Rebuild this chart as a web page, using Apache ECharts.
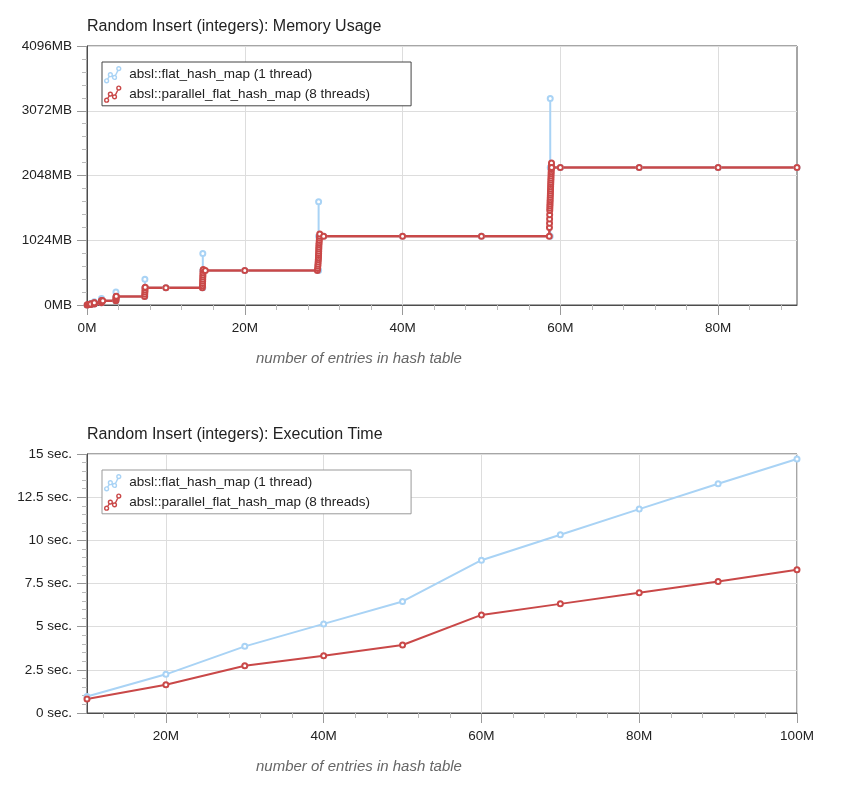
<!DOCTYPE html>
<html>
<head>
<meta charset="utf-8">
<script src="https://cdn.jsdelivr.net/npm/echarts@6/dist/echarts.min.js"></script>
<style>
  html, body { margin: 0; padding: 0; background: #fff; }
  #main_chart { width: 853px; height: 799px; }
</style>
</head>
<body>
<div id="main_chart"></div>
<script>
// memory usage chart (x: millions of entries, y: MB)
const memEntriesSingle = [0.01, 0.46, 0.46, 0.46, 0.92, 0.92, 0.92, 1.84, 1.84, 1.84, 3.67, 3.67, 3.67,
  7.34, 7.34, 7.34, 10, 14.68, 14.68, 14.68, 20, 29.36, 29.36, 29.36, 30, 40, 50,
  58.72, 58.72, 58.72, 60, 70, 80, 90];
const memSingle = [1, 8.5, 25.5, 17, 17, 51, 34, 34, 102, 68, 68, 204, 136,
  136, 408, 272, 272, 272, 816, 544, 544, 544, 1632, 1088, 1088, 1088, 1088,
  1088, 3264, 2176, 2176, 2176, 2176, 2176];

const memEntriesParallel = [0.01, 0.06, 0.11, 0.23,
  0.46, 0.46, 0.47, 0.47,
  0.92, 0.92, 0.93, 0.93,
  1.83, 1.83, 1.84, 1.85, 2,
  3.66, 3.67, 3.68, 3.69, 3.70, 3.71,
  7.30, 7.32, 7.34, 7.35, 7.36, 7.38,
  10,
  14.62, 14.64, 14.65, 14.66, 14.67, 14.68, 14.69, 14.70, 14.72, 14.74,
  15, 20,
  29.20, 29.24, 29.26, 29.28, 29.30, 29.32, 29.34, 29.35, 29.36, 29.37, 29.38, 29.39, 29.40, 29.42, 29.44, 29.46, 29.48, 29.50,
  30, 40, 50,
  58.60, 58.62, 58.63, 58.64, 58.65, 58.66, 58.67, 58.68, 58.69, 58.70, 58.71, 58.72, 58.73, 58.74, 58.75,
  58.76, 58.77, 58.78, 58.79, 58.80, 58.81, 58.82, 58.83, 58.84, 58.85, 58.86, 58.87, 58.88, 58.90,
  60, 70, 80, 90];
const memParallel = [1, 2, 4, 8.5,
  8.5, 13, 17, 17.5,
  17, 25, 34, 35,
  34, 51, 68, 70, 68,
  68, 85, 102, 119, 136, 140,
  136, 170, 204, 238, 272, 280,
  272,
  272, 306, 340, 374, 408, 442, 476, 510, 544, 561,
  544, 544,
  544, 578, 612, 646, 680, 714, 748, 782, 816, 850, 884, 918, 952, 986, 1020, 1054, 1088, 1122,
  1088, 1088, 1088,
  1088, 1224, 1292, 1360, 1428, 1496, 1530, 1564, 1598, 1632, 1666, 1700, 1734, 1768, 1802,
  1836, 1870, 1904, 1938, 1972, 2006, 2040, 2074, 2108, 2142, 2176, 2210, 2244, 2176,
  2176, 2176, 2176, 2176];

// execution time chart (x: millions of entries, y: seconds)
const timeEntries = [10, 20, 30, 40, 50, 60, 70, 80, 90, 100];
const timeSingle = [0.96, 2.24, 3.86, 5.16, 6.46, 8.85, 10.32, 11.81, 13.28, 14.71];
const timeParallel = [0.81, 1.64, 2.74, 3.32, 3.94, 5.68, 6.32, 6.96, 7.62, 8.29];

// tick labels
const memXLabels = [0, 20, 40, 60, 80];
const memXMinor = [4, 8, 12, 16, 24, 28, 32, 36, 44, 48, 52, 56, 64, 68, 72, 76, 84, 88];
const timeXLabels = [20, 40, 60, 80, 100];
const timeXMinor = [12, 16, 24, 28, 32, 36, 44, 48, 52, 56, 64, 68, 72, 76, 84, 88, 92, 96];

const nameSingle = 'absl::flat_hash_map (1 thread)';
const nameParallel = 'absl::parallel_flat_hash_map (8 threads)';
const blue = '#a9d3f5';
const red = '#c94848';
const fontFam = 'Arial, "Liberation Sans", sans-serif';

// little zigzag icon used in the legend
const legendIcon = 'path://M0.5,13.7a1.8,1.8 0 1,0 3.6,0a1.8,1.8 0 1,0 -3.6,0' +
  'M4,8a1.8,1.8 0 1,0 3.6,0a1.8,1.8 0 1,0 -3.6,0' +
  'M7.9,10.6a1.8,1.8 0 1,0 3.6,0a1.8,1.8 0 1,0 -3.6,0' +
  'M11.9,2.3a1.8,1.8 0 1,0 3.6,0a1.8,1.8 0 1,0 -3.6,0' +
  'M3.24,12.17L4.86,9.53M7.3,9L8.2,9.6M10.48,8.98L12.92,3.92';

function zip(xs, ys) {
  return xs.map((x, i) => [x, ys[i]]);
}

function makeLegend(top, border) {
  return {
    left: 102, top: top,
    orient: 'vertical',
    backgroundColor: '#fff',
    borderColor: border, borderWidth: 1, borderRadius: 0,
    padding: [4, 41, 3, 2],
    itemWidth: 17, itemHeight: 16, itemGap: 2,
    icon: legendIcon,
    textStyle: { fontSize: 13.5, color: '#222', fontFamily: fontFam, padding: [0, 0, 0, 3] },
    selectedMode: false,
    data: [
      { name: nameSingle, itemStyle: { color: 'rgba(0,0,0,0)', borderColor: blue, borderWidth: 1.4 } },
      { name: nameParallel, itemStyle: { color: 'rgba(0,0,0,0)', borderColor: red, borderWidth: 1.4 } }
    ]
  };
}

function mainX(grid, min, max, labels) {
  return {
    type: 'value', gridIndex: grid, position: 'bottom', min: min, max: max,
    axisLine: { show: true, lineStyle: { color: '#4d4d4d' } },
    axisTick: { show: true, customValues: labels, length: 10, lineStyle: { color: '#999' } },
    axisLabel: { customValues: labels, formatter: v => v + 'M', margin: 16, fontSize: 13.5, color: '#222' },
    splitLine: { show: true, lineStyle: { color: '#ddd' } }
  };
}

function minorX(grid, min, max, ticks) {
  return {
    type: 'value', gridIndex: grid, position: 'bottom', min: min, max: max,
    axisLine: { show: false },
    axisTick: { show: true, customValues: ticks, length: 5, lineStyle: { color: '#bbb' } },
    axisLabel: { show: false },
    splitLine: { show: false }
  };
}

function mainY(grid, max, interval, fmt) {
  return {
    type: 'value', gridIndex: grid, min: 0, max: max, interval: interval,
    axisLine: { show: true, lineStyle: { color: '#4d4d4d' } },
    axisTick: { show: true, length: 10, lineStyle: { color: '#999' } },
    minorTick: { show: true, splitNumber: 5, length: 5, lineStyle: { color: '#bbb' } },
    axisLabel: { formatter: fmt, margin: 15, fontSize: 13.5, color: '#222' },
    splitLine: { show: true, lineStyle: { color: '#ddd' } }
  };
}

function lineSeries(name, color, xi, yi, data, width) {
  return {
    name: name, type: 'line', xAxisIndex: xi, yAxisIndex: yi, data: data,
    symbol: 'emptyCircle', symbolSize: 5,
    lineStyle: { color: color, width: width },
    itemStyle: { color: color, borderWidth: 1.5 },
    emphasis: { disabled: true }
  };
}

const chart = echarts.init(document.getElementById('main_chart'));

const option = {
  animation: false,
  backgroundColor: '#fff',
  textStyle: { fontFamily: fontFam },
  title: [
    { text: 'Random Insert (integers): Memory Usage', left: 87, top: 19, padding: 0,
      textStyle: { fontSize: 16, fontWeight: 'normal', color: '#222', fontFamily: fontFam } },
    { text: 'Random Insert (integers): Execution Time', left: 87, top: 427, padding: 0,
      textStyle: { fontSize: 16, fontWeight: 'normal', color: '#222', fontFamily: fontFam } }
  ],
  legend: [makeLegend(62, '#444'), makeLegend(470, '#999')],
  grid: [
    { left: 87, top: 46, width: 710, height: 259, show: true, borderColor: '#4d4d4d', borderWidth: 1 },
    { left: 87, top: 454, width: 710, height: 259, show: true, borderColor: '#4d4d4d', borderWidth: 1 }
  ],
  xAxis: [
    mainX(0, 0, 90, memXLabels),
    minorX(0, 0, 90, memXMinor),
    mainX(1, 10, 100, timeXLabels),
    minorX(1, 10, 100, timeXMinor)
  ],
  yAxis: [
    mainY(0, 4096, 1024, v => v + 'MB'),
    mainY(1, 15, 2.5, v => v + ' sec.')
  ],
  graphic: [
    { type: 'text', left: 256, top: 351,
      style: { text: 'number of entries in hash table', font: 'italic 15px ' + fontFam, fill: '#666' } },
    { type: 'text', left: 256, top: 759,
      style: { text: 'number of entries in hash table', font: 'italic 15px ' + fontFam, fill: '#666' } }
  ],
  series: [
    lineSeries(nameSingle, blue, 0, 0, zip(memEntriesSingle, memSingle), 2),
    lineSeries(nameParallel, red, 0, 0, zip(memEntriesParallel, memParallel), 2.5),
    lineSeries(nameSingle, blue, 2, 1, zip(timeEntries, timeSingle), 2),
    lineSeries(nameParallel, red, 2, 1, zip(timeEntries, timeParallel), 2)
  ]
};

chart.setOption(option);
</script>
</body>
</html>
